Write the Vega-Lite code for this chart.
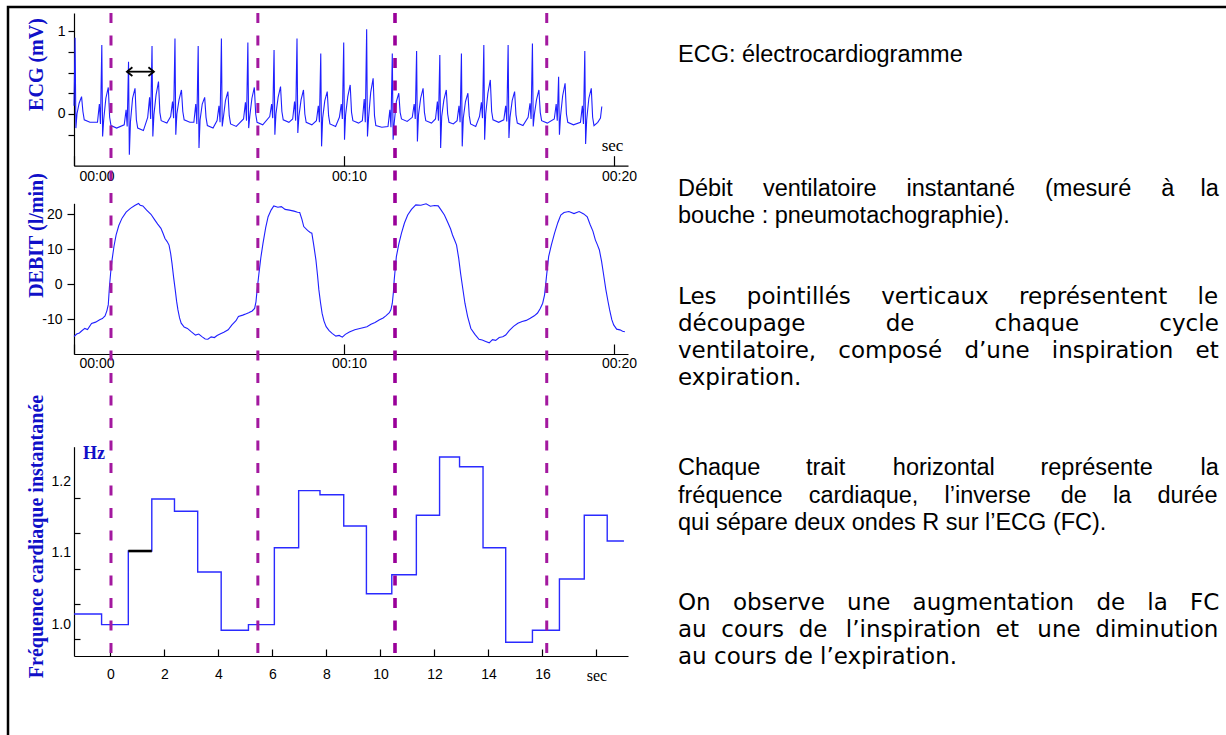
{
  "$schema": "https://vega.github.io/schema/vega-lite/v6.json",
  "autosize": {"type": "none"},
  "width": 1222,
  "height": 732,
  "padding": {"left": 8, "top": 7, "right": -4, "bottom": -4},
  "background": "white",
  "config": {
    "view": {"stroke": "black", "strokeWidth": 2.5},
    "axis": {
      "grid": false,
      "domainColor": "black",
      "domainWidth": 1.2,
      "tickColor": "black",
      "tickWidth": 1.2,
      "labelColor": "black",
      "labelFont": "Liberation Sans",
      "labelFontSize": 14,
      "titleFont": "Liberation Serif",
      "titleFontWeight": "bold",
      "titleFontSize": 20,
      "titleColor": "#1010c8"
    }
  },
  "datasets": {
    "ecg": [
      {"t":0.00,"mv":0.10},{"t":0.04,"mv":0.92},{"t":0.07,"mv":-0.17},{"t":0.11,"mv":0.00},{"t":0.19,"mv":0.13},{"t":0.28,"mv":0.21},{"t":0.33,"mv":0.03},{"t":0.38,"mv":-0.07},{"t":0.59,"mv":-0.10},
      {"t":0.87,"mv":-0.10},{"t":0.94,"mv":0.12},{"t":0.98,"mv":-0.12},{"t":1.03,"mv":0.83},{"t":1.06,"mv":-0.27},{"t":1.10,"mv":-0.07},{"t":1.18,"mv":0.19},{"t":1.27,"mv":0.32},{"t":1.32,"mv":-0.04},{"t":1.37,"mv":-0.14},{"t":1.58,"mv":-0.17},
      {"t":1.86,"mv":-0.13},{"t":1.93,"mv":0.05},{"t":1.97,"mv":-0.15},{"t":2.02,"mv":0.63},{"t":2.05,"mv":-0.49},{"t":2.09,"mv":-0.10},{"t":2.17,"mv":0.19},{"t":2.26,"mv":0.31},{"t":2.31,"mv":-0.07},{"t":2.36,"mv":-0.17},{"t":2.57,"mv":-0.20},
      {"t":2.73,"mv":-0.04},{"t":2.80,"mv":0.20},{"t":2.84,"mv":-0.06},{"t":2.89,"mv":0.82},{"t":2.92,"mv":-0.27},{"t":2.96,"mv":-0.01},{"t":3.04,"mv":0.23},{"t":3.13,"mv":0.39},{"t":3.18,"mv":0.02},{"t":3.23,"mv":-0.08},{"t":3.44,"mv":-0.11},
      {"t":3.58,"mv":-0.03},{"t":3.65,"mv":0.15},{"t":3.69,"mv":-0.05},{"t":3.74,"mv":0.91},{"t":3.77,"mv":-0.25},{"t":3.81,"mv":0.00},{"t":3.89,"mv":0.17},{"t":3.98,"mv":0.29},{"t":4.03,"mv":0.03},{"t":4.08,"mv":-0.07},{"t":4.29,"mv":-0.10},
      {"t":4.44,"mv":-0.10},{"t":4.51,"mv":0.12},{"t":4.55,"mv":-0.12},{"t":4.60,"mv":0.82},{"t":4.63,"mv":-0.41},{"t":4.67,"mv":-0.07},{"t":4.75,"mv":0.12},{"t":4.84,"mv":0.20},{"t":4.89,"mv":-0.04},{"t":4.94,"mv":-0.14},{"t":5.15,"mv":-0.17},
      {"t":5.30,"mv":-0.08},{"t":5.37,"mv":0.10},{"t":5.41,"mv":-0.10},{"t":5.46,"mv":0.91},{"t":5.49,"mv":-0.15},{"t":5.53,"mv":-0.05},{"t":5.61,"mv":0.16},{"t":5.70,"mv":0.27},{"t":5.75,"mv":-0.02},{"t":5.80,"mv":-0.12},{"t":6.01,"mv":-0.15},
      {"t":6.28,"mv":-0.06},{"t":6.35,"mv":0.14},{"t":6.39,"mv":-0.08},{"t":6.44,"mv":0.86},{"t":6.47,"mv":-0.17},{"t":6.51,"mv":-0.03},{"t":6.59,"mv":0.19},{"t":6.68,"mv":0.32},{"t":6.73,"mv":0.00},{"t":6.78,"mv":-0.10},{"t":6.99,"mv":-0.13},
      {"t":7.25,"mv":-0.03},{"t":7.32,"mv":0.12},{"t":7.36,"mv":-0.05},{"t":7.41,"mv":0.77},{"t":7.44,"mv":-0.25},{"t":7.48,"mv":0.00},{"t":7.56,"mv":0.20},{"t":7.65,"mv":0.33},{"t":7.70,"mv":0.03},{"t":7.75,"mv":-0.07},{"t":7.96,"mv":-0.10},
      {"t":8.10,"mv":-0.06},{"t":8.17,"mv":0.15},{"t":8.21,"mv":-0.08},{"t":8.26,"mv":0.91},{"t":8.29,"mv":-0.23},{"t":8.33,"mv":-0.03},{"t":8.41,"mv":0.17},{"t":8.50,"mv":0.29},{"t":8.55,"mv":0.00},{"t":8.60,"mv":-0.10},{"t":8.81,"mv":-0.13},
      {"t":8.98,"mv":-0.08},{"t":9.05,"mv":0.10},{"t":9.09,"mv":-0.10},{"t":9.14,"mv":0.73},{"t":9.17,"mv":-0.39},{"t":9.21,"mv":-0.05},{"t":9.29,"mv":0.16},{"t":9.38,"mv":0.27},{"t":9.43,"mv":-0.02},{"t":9.48,"mv":-0.12},{"t":9.69,"mv":-0.15},
      {"t":9.83,"mv":-0.04},{"t":9.90,"mv":0.12},{"t":9.94,"mv":-0.06},{"t":9.99,"mv":0.86},{"t":10.02,"mv":-0.31},{"t":10.06,"mv":-0.01},{"t":10.14,"mv":0.21},{"t":10.23,"mv":0.35},{"t":10.28,"mv":0.02},{"t":10.33,"mv":-0.08},{"t":10.54,"mv":-0.11},
      {"t":10.68,"mv":-0.08},{"t":10.75,"mv":0.18},{"t":10.79,"mv":-0.10},{"t":10.84,"mv":1.02},{"t":10.87,"mv":-0.27},{"t":10.91,"mv":-0.05},{"t":10.99,"mv":0.26},{"t":11.08,"mv":0.43},{"t":11.13,"mv":-0.02},{"t":11.18,"mv":-0.14},{"t":11.40,"mv":-0.16},
      {"t":11.63,"mv":-0.15},{"t":11.70,"mv":0.05},{"t":11.74,"mv":-0.16},{"t":11.79,"mv":0.73},{"t":11.82,"mv":-0.31},{"t":11.86,"mv":-0.11},{"t":11.94,"mv":0.15},{"t":12.03,"mv":0.25},{"t":12.08,"mv":0.02},{"t":12.13,"mv":-0.06},{"t":12.34,"mv":-0.09},
      {"t":12.53,"mv":-0.04},{"t":12.60,"mv":0.12},{"t":12.64,"mv":-0.06},{"t":12.69,"mv":0.76},{"t":12.72,"mv":-0.33},{"t":12.76,"mv":-0.01},{"t":12.84,"mv":0.19},{"t":12.93,"mv":0.31},{"t":12.98,"mv":0.02},{"t":13.03,"mv":-0.08},{"t":13.24,"mv":-0.11},
      {"t":13.39,"mv":-0.06},{"t":13.46,"mv":0.15},{"t":13.50,"mv":-0.08},{"t":13.55,"mv":0.71},{"t":13.58,"mv":-0.41},{"t":13.62,"mv":-0.03},{"t":13.70,"mv":0.17},{"t":13.79,"mv":0.29},{"t":13.84,"mv":0.00},{"t":13.89,"mv":-0.10},{"t":14.05,"mv":-0.12},
      {"t":14.19,"mv":-0.08},{"t":14.26,"mv":0.10},{"t":14.30,"mv":-0.10},{"t":14.35,"mv":0.73},{"t":14.38,"mv":-0.39},{"t":14.42,"mv":-0.05},{"t":14.50,"mv":0.15},{"t":14.59,"mv":0.25},{"t":14.64,"mv":-0.02},{"t":14.69,"mv":-0.12},{"t":14.88,"mv":-0.15},
      {"t":15.02,"mv":-0.03},{"t":15.09,"mv":0.14},{"t":15.13,"mv":-0.05},{"t":15.18,"mv":0.83},{"t":15.21,"mv":-0.31},{"t":15.25,"mv":0.00},{"t":15.33,"mv":0.25},{"t":15.42,"mv":0.41},{"t":15.47,"mv":0.03},{"t":15.52,"mv":-0.07},{"t":15.73,"mv":-0.10},
      {"t":15.92,"mv":-0.07},{"t":15.99,"mv":0.10},{"t":16.03,"mv":-0.09},{"t":16.08,"mv":0.83},{"t":16.11,"mv":-0.29},{"t":16.15,"mv":-0.04},{"t":16.23,"mv":0.16},{"t":16.32,"mv":0.27},{"t":16.37,"mv":-0.01},{"t":16.42,"mv":-0.11},{"t":16.63,"mv":-0.14},
      {"t":16.82,"mv":-0.04},{"t":16.89,"mv":0.13},{"t":16.93,"mv":-0.06},{"t":16.98,"mv":0.85},{"t":17.01,"mv":-0.15},{"t":17.05,"mv":-0.01},{"t":17.13,"mv":0.17},{"t":17.22,"mv":0.29},{"t":17.27,"mv":0.02},{"t":17.32,"mv":-0.08},{"t":17.53,"mv":-0.11},
      {"t":17.79,"mv":-0.06},{"t":17.86,"mv":0.12},{"t":17.90,"mv":-0.08},{"t":17.95,"mv":0.45},{"t":17.98,"mv":-0.25},{"t":18.02,"mv":-0.03},{"t":18.10,"mv":0.22},{"t":18.19,"mv":0.37},{"t":18.24,"mv":0.00},{"t":18.29,"mv":-0.10},{"t":18.50,"mv":-0.13},
      {"t":18.76,"mv":-0.10},{"t":18.83,"mv":0.10},{"t":18.87,"mv":-0.12},{"t":18.92,"mv":0.76},{"t":18.95,"mv":-0.36},{"t":18.99,"mv":-0.07},{"t":19.07,"mv":0.19},{"t":19.16,"mv":0.31},{"t":19.21,"mv":-0.04},{"t":19.26,"mv":-0.14},{"t":19.40,"mv":-0.10},{"t":19.50,"mv":-0.05},{"t":19.55,"mv":0.09}
    ],
    "debit": [
      {"t":0.00,"d":-14.9},{"t":0.10,"d":-14.2},{"t":0.20,"d":-13.9},{"t":0.27,"d":-13.4},{"t":0.40,"d":-12.6},{"t":0.50,"d":-12.9},{"t":0.65,"d":-11.2},{"t":0.80,"d":-10.8},{"t":0.95,"d":-10.1},{"t":1.05,"d":-9.8},{"t":1.15,"d":-9.0},{"t":1.22,"d":-7.5},{"t":1.27,"d":-5.8},{"t":1.31,"d":-1.0},{"t":1.36,"d":3.5},{"t":1.41,"d":7.0},{"t":1.48,"d":10.8},{"t":1.56,"d":14.1},{"t":1.66,"d":16.8},{"t":1.78,"d":18.9},{"t":1.93,"d":20.6},{"t":2.09,"d":21.7},{"t":2.25,"d":22.5},{"t":2.39,"d":23.1},{"t":2.45,"d":22.6},{"t":2.55,"d":22.4},{"t":2.69,"d":21.2},{"t":2.85,"d":20.0},{"t":2.99,"d":18.4},{"t":3.10,"d":17.2},{"t":3.22,"d":16.0},{"t":3.30,"d":14.5},{"t":3.37,"d":13.1},{"t":3.45,"d":12.2},{"t":3.52,"d":11.2},{"t":3.58,"d":8.8},{"t":3.63,"d":6.0},{"t":3.69,"d":2.0},{"t":3.75,"d":-1.6},{"t":3.80,"d":-4.8},{"t":3.85,"d":-7.3},{"t":3.91,"d":-9.6},{"t":3.97,"d":-11.1},{"t":4.08,"d":-12.2},{"t":4.20,"d":-12.6},{"t":4.35,"d":-13.6},{"t":4.50,"d":-14.5},{"t":4.62,"d":-14.2},{"t":4.75,"d":-15.0},{"t":4.86,"d":-15.6},{"t":4.96,"d":-15.7},{"t":5.08,"d":-15.0},{"t":5.20,"d":-15.2},{"t":5.30,"d":-14.6},{"t":5.41,"d":-14.2},{"t":5.55,"d":-13.7},{"t":5.71,"d":-13.0},{"t":5.85,"d":-11.6},{"t":6.00,"d":-10.4},{"t":6.09,"d":-9.2},{"t":6.25,"d":-8.8},{"t":6.38,"d":-8.4},{"t":6.47,"d":-8.1},{"t":6.60,"d":-7.6},{"t":6.69,"d":-6.9},{"t":6.74,"d":-5.0},{"t":6.77,"d":-2.6},{"t":6.81,"d":0.3},{"t":6.85,"d":3.1},{"t":6.92,"d":7.6},{"t":7.00,"d":11.7},{"t":7.10,"d":16.2},{"t":7.19,"d":19.3},{"t":7.30,"d":21.2},{"t":7.40,"d":22.4},{"t":7.55,"d":22.0},{"t":7.68,"d":22.2},{"t":7.82,"d":21.4},{"t":7.98,"d":21.2},{"t":8.15,"d":20.9},{"t":8.28,"d":20.6},{"t":8.36,"d":20.5},{"t":8.44,"d":18.6},{"t":8.51,"d":16.5},{"t":8.65,"d":15.4},{"t":8.75,"d":14.8},{"t":8.81,"d":14.6},{"t":8.88,"d":11.2},{"t":8.96,"d":7.0},{"t":9.02,"d":2.6},{"t":9.07,"d":-1.6},{"t":9.13,"d":-5.2},{"t":9.19,"d":-8.3},{"t":9.26,"d":-10.5},{"t":9.34,"d":-12.1},{"t":9.45,"d":-13.2},{"t":9.56,"d":-14.0},{"t":9.70,"d":-14.8},{"t":9.82,"d":-14.6},{"t":9.94,"d":-15.1},{"t":10.05,"d":-14.3},{"t":10.20,"d":-13.6},{"t":10.40,"d":-13.0},{"t":10.55,"d":-12.7},{"t":10.70,"d":-12.4},{"t":10.85,"d":-12.1},{"t":11.00,"d":-11.4},{"t":11.15,"d":-10.9},{"t":11.30,"d":-10.2},{"t":11.45,"d":-9.6},{"t":11.55,"d":-9.0},{"t":11.68,"d":-8.1},{"t":11.74,"d":-7.2},{"t":11.79,"d":-5.4},{"t":11.83,"d":-2.3},{"t":11.86,"d":1.2},{"t":11.90,"d":4.6},{"t":11.94,"d":7.9},{"t":12.03,"d":11.5},{"t":12.13,"d":14.6},{"t":12.24,"d":17.5},{"t":12.36,"d":19.8},{"t":12.50,"d":21.4},{"t":12.66,"d":22.7},{"t":12.85,"d":22.6},{"t":13.04,"d":23.0},{"t":13.20,"d":22.3},{"t":13.35,"d":22.5},{"t":13.49,"d":22.4},{"t":13.60,"d":21.2},{"t":13.72,"d":19.8},{"t":13.85,"d":17.6},{"t":13.95,"d":15.8},{"t":14.02,"d":14.1},{"t":14.10,"d":12.6},{"t":14.17,"d":11.2},{"t":14.25,"d":7.4},{"t":14.32,"d":3.1},{"t":14.40,"d":-1.2},{"t":14.48,"d":-5.4},{"t":14.58,"d":-9.2},{"t":14.70,"d":-12.6},{"t":14.85,"d":-14.3},{"t":15.00,"d":-15.7},{"t":15.12,"d":-15.9},{"t":15.25,"d":-16.3},{"t":15.38,"d":-16.7},{"t":15.50,"d":-15.8},{"t":15.62,"d":-16.0},{"t":15.75,"d":-15.2},{"t":15.88,"d":-15.0},{"t":15.99,"d":-14.5},{"t":16.12,"d":-13.2},{"t":16.28,"d":-12.0},{"t":16.44,"d":-11.1},{"t":16.60,"d":-10.6},{"t":16.75,"d":-10.3},{"t":16.90,"d":-9.7},{"t":17.05,"d":-9.0},{"t":17.17,"d":-8.2},{"t":17.27,"d":-6.9},{"t":17.36,"d":-5.4},{"t":17.43,"d":-3.0},{"t":17.50,"d":2.2},{"t":17.58,"d":7.9},{"t":17.68,"d":11.2},{"t":17.80,"d":14.6},{"t":17.92,"d":17.6},{"t":18.03,"d":19.8},{"t":18.15,"d":20.5},{"t":18.33,"d":20.8},{"t":18.52,"d":20.2},{"t":18.71,"d":20.8},{"t":18.88,"d":20.1},{"t":19.01,"d":19.3},{"t":19.12,"d":17.0},{"t":19.22,"d":15.2},{"t":19.31,"d":12.7},{"t":19.38,"d":11.4},{"t":19.46,"d":9.8},{"t":19.54,"d":6.6},{"t":19.61,"d":3.1},{"t":19.70,"d":-1.5},{"t":19.78,"d":-4.9},{"t":19.84,"d":-7.3},{"t":19.92,"d":-10.1},{"t":19.99,"d":-11.6},{"t":20.10,"d":-12.8},{"t":20.22,"d":-13.0},{"t":20.32,"d":-13.4},{"t":20.40,"d":-13.5}
    ],
    "fc": [
      {"t":-1.35,"fc":1.0144},{"t":-0.33,"fc":0.9995},{"t":0.66,"fc":1.1027},{"t":1.53,"fc":1.1756},{"t":2.37,"fc":1.1584},{"t":3.23,"fc":1.0733},{"t":4.10,"fc":0.9916},{"t":5.11,"fc":0.9995},{"t":6.07,"fc":1.1074},{"t":6.97,"fc":1.1873},{"t":7.76,"fc":1.1816},{"t":8.64,"fc":1.1378},{"t":9.48,"fc":1.0429},{"t":10.42,"fc":1.0695},{"t":11.33,"fc":1.1528},{"t":12.19,"fc":1.2345},{"t":12.93,"fc":1.2209},{"t":13.80,"fc":1.1074},{"t":14.64,"fc":0.9748},{"t":15.63,"fc":0.9916},{"t":16.63,"fc":1.0635},{"t":17.55,"fc":1.1528},{"t":18.40,"fc":1.1167},{"t":19.02,"fc":1.1167}
    ],
    "cuts": [
      {"cycle":1,"t":1.37},{"cycle":2,"t":6.81},{"cycle":3,"t":11.89},{"cycle":4,"t":17.51}
    ],
    "textes": [
      {"para":1,"rang":0,"texte":"ECG: électrocardiogramme"},
      {"para":2,"rang":5.057,"texte":"Débit \u2003ventilatoire \u2003instantané \u2003(mesuré \u2003à \u2002\u2004la"},
      {"para":2,"rang":6.094,"texte":"bouche : pneumotachographie)."},
      {"para":3,"rang":9.132,"texte":"Les \u2003pointillés \u2003verticaux \u2003représentent \u2003le"},
      {"para":3,"rang":10.151,"texte":"découpage \u2003\u2003\u2003\u2006de \u2003\u2003\u2003\u2006chaque \u2003\u2003\u2003\u2006cycle"},
      {"para":3,"rang":11.17,"texte":"ventilatoire, \u00a0\u2004composé \u00a0\u2004d’une \u00a0\u2004inspiration \u00a0\u2004et"},
      {"para":3,"rang":12.189,"texte":"expiration."},
      {"para":4,"rang":15.585,"texte":"Chaque \u2003\u2002\u2006trait \u2003\u2002\u2005horizontal \u2003\u2002\u2006représente \u2003\u2002\u2005la"},
      {"para":4,"rang":16.623,"texte":"fréquence \u2002\u2004cardiaque, \u2002\u2004l’inverse \u2003de \u2002\u2004la \u2002\u2004durée"},
      {"para":4,"rang":17.66,"texte":"qui sépare deux ondes R sur l’ECG (FC)."},
      {"para":5,"rang":20.679,"texte":"On \u00a0\u2004observe \u00a0\u2004une \u00a0\u2004augmentation \u00a0\u2004de \u00a0\u2004la \u00a0\u2004FC"},
      {"para":5,"rang":21.698,"texte":"au \u00a0cours \u00a0de \u00a0\u2006l’inspiration \u00a0et \u00a0\u2006une \u00a0diminution"},
      {"para":5,"rang":22.717,"texte":"au cours de l’expiration."}
    ]
  },
  "layer": [
    {
      "layer": [
        {
          "data": {"name": "ecg"},
          "mark": {"type": "line", "color": "#1f1fff", "strokeWidth": 1.1},
          "encoding": {
            "x": {"field": "t", "type": "quantitative",
              "scale": {"domain": [0, 20.52], "range": [66, 620], "nice": false, "zero": false},
              "axis": {"orient": "bottom", "offset": -573.3, "values": [0, 10, 20],
                "labelExpr": "datum.value == 0 ? '00:00' : (datum.value == 10 ? '00:10' : '00:20')",
                "tickSize": -10, "labelPadding": 14, "labelOffset": 5, "labelFontSize": 14,
                "title": "sec", "titleX": 604, "titleY": -15, "titleAlign": "center", "titleBaseline": "alphabetic", "titleAngle": 0,
                "titleFontWeight": "normal", "titleFontSize": 17, "titleColor": "black"}},
            "y": {"field": "mv", "type": "quantitative",
              "scale": {"domain": [-0.623, 1.217], "range": [158.7, 6], "nice": false, "zero": false},
              "axis": {"orient": "left", "offset": -66, "values": [-0.25, 0, 0.25, 0.5, 0.75, 1],
                "labelExpr": "datum.value == 1 ? '1' : (datum.value == 0 ? '0' : '')",
                "tickSize": 6, "labelPadding": 3,
                "title": "ECG (mV)", "titleX": -32, "titleY": 57, "titleAngle": -90, "titleAlign": "center", "titleBaseline": "alphabetic"}}
          }
        },
        {
          "data": {"values": [{"t1": 1.96, "t2": 2.96, "mv": 0.51}]},
          "mark": {"type": "rule", "color": "black", "strokeWidth": 1.8},
          "encoding": {
            "x": {"field": "t1", "type": "quantitative"},
            "x2": {"field": "t2"},
            "y": {"field": "mv", "type": "quantitative"}
          }
        },
        {
          "data": {"values": [{"t": 1.96, "mv": 0.51, "sens": "gauche"}, {"t": 2.96, "mv": 0.51, "sens": "droite"}]},
          "mark": {"type": "point", "filled": false, "stroke": "black", "strokeWidth": 1.8, "size": 120, "opacity": 1},
          "encoding": {
            "x": {"field": "t", "type": "quantitative"},
            "y": {"field": "mv", "type": "quantitative"},
            "shape": {"field": "sens", "type": "nominal",
              "scale": {"domain": ["gauche", "droite"], "range": ["M1,-0.8L0,0L1,0.8", "M-1,-0.8L0,0L-1,0.8"]},
              "legend": null}
          }
        }
      ]
    },
    {
      "data": {"name": "debit"},
      "mark": {"type": "line", "color": "#1f1fff", "strokeWidth": 1.1},
      "encoding": {
        "x": {"field": "t", "type": "quantitative",
          "scale": {"domain": [0, 20.52], "range": [66, 620], "nice": false, "zero": false},
          "axis": {"orient": "bottom", "offset": -385, "values": [0, 10, 20],
            "labelExpr": "datum.value == 0 ? '00:00' : (datum.value == 10 ? '00:10' : '00:20')",
            "tickSize": -10, "labelPadding": 12, "labelOffset": 5, "labelFontSize": 14, "title": null}},
        "y": {"field": "d", "type": "quantitative",
          "scale": {"domain": [-19.9, 23.14], "range": [347, 196.3], "nice": false, "zero": false},
          "axis": {"orient": "left", "offset": -66, "values": [-10, 0, 10, 20],
            "labelExpr": "datum.value < 0 ? '-' + format(-datum.value, 'd') : format(datum.value, 'd')",
            "tickSize": 7, "labelPadding": 5,
            "title": "DEBIT (l/min)", "titleX": -32, "titleY": 228, "titleAngle": -90, "titleAlign": "center", "titleBaseline": "alphabetic"}}
      }
    },
    {
      "layer": [
        {
          "data": {"name": "fc"},
          "mark": {"type": "line", "interpolate": "step-after", "color": "#2a2aff", "strokeWidth": 1.4},
          "encoding": {
            "x": {"field": "t", "type": "quantitative",
              "scale": {"domain": [-1.352, 19.17], "range": [66, 620], "nice": false, "zero": false},
              "axis": {"orient": "bottom", "offset": -83, "values": [0, 2, 4, 6, 8, 10, 12, 14, 16, 18],
                "labelExpr": "datum.value == 18 ? 'sec' : format(datum.value, 'd')",
                "labelFont": {"condition": {"test": "datum.value == 18", "value": "Liberation Serif"}, "value": "Liberation Sans"},
                "labelFontSize": {"condition": {"test": "datum.value == 18", "value": 16}, "value": 14},
                "tickSize": -7, "labelPadding": 18, "title": null}},
            "y": {"field": "fc", "type": "quantitative",
              "scale": {"domain": [0.9556, 1.2489], "range": [649, 439.7], "nice": false, "zero": false},
              "axis": {"orient": "left", "offset": -66, "values": [1.0, 1.1, 1.2],
                "labelExpr": "format(datum.value, '.1f')", "ticks": false, "labelPadding": 3.5,
                "title": "Fréquence cardiaque instantanée", "titleX": -32, "titleY": 529, "titleAngle": -90, "titleAlign": "center", "titleBaseline": "alphabetic"}}
          }
        },
        {
          "data": {"values": [{"t1": 0.66, "t2": 1.53, "fc": 1.1027}]},
          "mark": {"type": "rule", "color": "black", "strokeWidth": 2.6},
          "encoding": {
            "x": {"field": "t1", "type": "quantitative"},
            "x2": {"field": "t2"},
            "y": {"field": "fc", "type": "quantitative",
              "axis": {"orient": "left", "offset": -66, "values": [0.979, 1.029, 1.078, 1.128, 1.177],
                "labels": false, "domain": false, "tickSize": -6,
                "title": "Hz", "titleX": 19.5, "titleY": 446, "titleAngle": 0, "titleAlign": "center", "titleBaseline": "middle", "titleFontSize": 18}}
          }
        }
      ],
      "resolve": {"axis": {"y": "independent"}}
    },
    {
      "data": {"name": "cuts"},
      "layer": [
        {
          "transform": [{"filter": "datum.cycle != 3"}],
          "mark": {"type": "rule", "color": "#a3189f", "strokeWidth": 3, "strokeDash": [10, 12.5]},
          "encoding": {
            "x": {"field": "t", "type": "quantitative", "scale": {"domain": [0, 20.52], "range": [66, 620], "nice": false, "zero": false}, "axis": null},
            "y": {"datum": 1, "type": "quantitative", "scale": {"domain": [0, 1], "range": [649, 6], "nice": false, "zero": false}, "axis": null},
            "y2": {"datum": 0}
          }
        },
        {
          "transform": [{"filter": "datum.cycle == 3"}],
          "mark": {"type": "rule", "color": "#990099", "strokeWidth": 3.6, "strokeDash": [10, 12.5]},
          "encoding": {
            "x": {"field": "t", "type": "quantitative"},
            "y": {"datum": 1, "type": "quantitative"},
            "y2": {"datum": 0}
          }
        }
      ]
    },
    {
      "data": {"name": "textes"},
      "layer": [
        {
          "transform": [{"filter": "datum.para == 1 || datum.para == 2 || datum.para == 4"}],
          "mark": {"type": "text", "align": "left", "baseline": "middle", "font": "Liberation Sans", "fontSize": 23.5, "color": "black"},
          "encoding": {
            "x": {"datum": 0, "type": "quantitative", "scale": {"domain": [0, 1], "range": [670, 1218], "nice": false, "zero": false}, "axis": null},
            "y": {"field": "rang", "type": "quantitative", "scale": {"domain": [0, 23], "range": [48, 657.5], "nice": false, "zero": false}, "axis": null},
            "text": {"field": "texte"}
          }
        },
        {
          "transform": [{"filter": "datum.para == 3 || datum.para == 5"}],
          "mark": {"type": "text", "align": "left", "baseline": "middle", "font": "DejaVu Sans", "fontSize": 23, "color": "black"},
          "encoding": {
            "x": {"datum": 0, "type": "quantitative"},
            "y": {"field": "rang", "type": "quantitative"},
            "text": {"field": "texte"}
          }
        }
      ]
    }
  ],
  "resolve": {"scale": {"x": "independent", "y": "independent"}}
}
